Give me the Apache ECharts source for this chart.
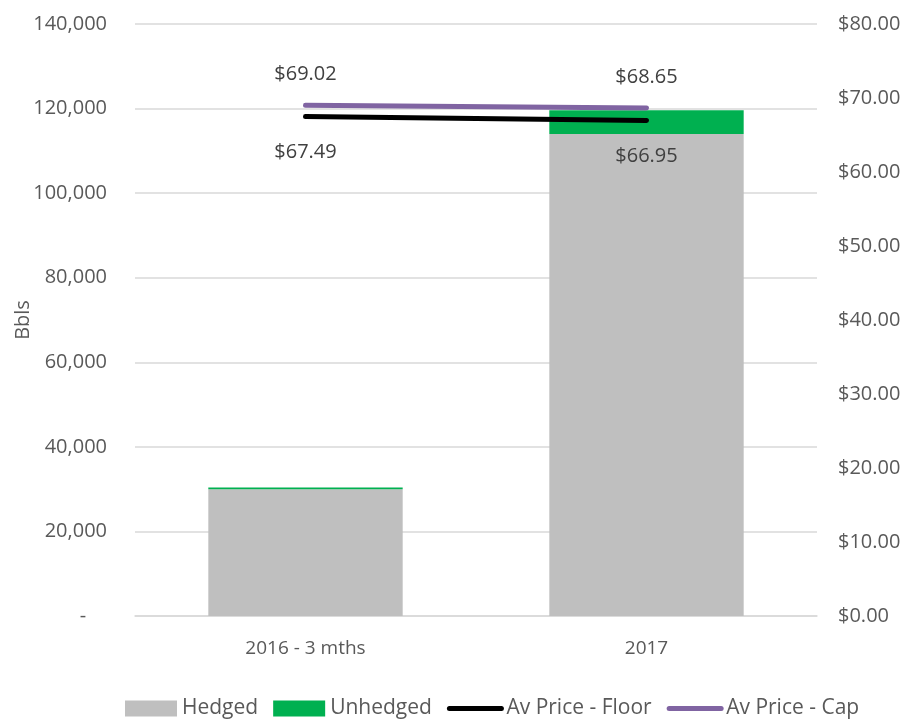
<!DOCTYPE html>
<html>
<head>
<meta charset="utf-8">
<script src="https://cdn.jsdelivr.net/npm/echarts@6/dist/echarts.min.js"></script>
<style>
  html, body { margin: 0; padding: 0; background: #fff; }
  #chart { width: 910px; height: 721px; }
</style>
</head>
<body>
<div id="chart"></div>
<script>
  // values
  var categories = ["2016 - 3 mths", "2017"];
  var hedged = [30000, 114000];
  var unhedged = [400, 5600];
  var priceFloor = [67.49, 66.95];
  var priceCap = [69.02, 68.65];

  var font = "Open Sans";
  var chart = echarts.init(document.getElementById("chart"));

  function money(p) {
    return "$" + p.value.toFixed(2);
  }

  var legendLine = {
    itemStyle: { opacity: 0 },
    lineStyle: { width: 5, cap: "round" }
  };

  chart.setOption({
    animation: false,
    textStyle: { fontFamily: font },
    grid: { left: 135, right: 93, top: 24, bottom: 105, outerBoundsMode: "none" },
    legend: {
      bottom: -3,
      left: 120,
      itemWidth: 52,
      itemHeight: 16,
      itemGap: 15,
      lineStyle: { width: 5 },
      textStyle: { fontFamily: font, fontSize: 21, color: "#595959" },
      data: [
        { name: "Hedged", icon: "rect" },
        { name: "Unhedged", icon: "rect" },
        Object.assign({ name: "Av Price - Floor" }, legendLine),
        Object.assign({ name: "Av Price - Cap" }, legendLine)
      ]
    },
    xAxis: {
      type: "category",
      data: categories,
      axisLine: { lineStyle: { color: "#d9d9d9", width: 1.5 } },
      axisTick: { show: false },
      axisLabel: { color: "#595959", fontSize: 19, margin: 23 }
    },
    yAxis: [
      {
        type: "value",
        min: 0,
        max: 140000,
        interval: 20000,
        name: "Bbls",
        nameLocation: "middle",
        nameRotate: 90,
        nameGap: 102,
        nameMoveOverlap: false,
        nameTextStyle: { color: "#595959", fontSize: 20 },
        axisLine: { show: false },
        axisTick: { show: false },
        splitLine: { lineStyle: { color: "#d9d9d9", width: 1.5 } },
        axisLabel: {
          color: "#595959",
          fontSize: 20,
          margin: 28,
          formatter: function (v) {
            return v === 0 ? "-    " : v.toLocaleString("en-US");
          }
        }
      },
      {
        type: "value",
        min: 0,
        max: 80,
        interval: 10,
        axisLine: { show: false },
        axisTick: { show: false },
        splitLine: { show: false },
        axisLabel: {
          color: "#595959",
          fontSize: 20,
          margin: 21,
          formatter: function (v) { return "$" + v.toFixed(2); }
        }
      }
    ],
    series: [
      {
        name: "Hedged",
        type: "bar",
        stack: "vol",
        barWidth: "57%",
        itemStyle: { color: "#bfbfbf" },
        data: hedged
      },
      {
        name: "Unhedged",
        type: "bar",
        stack: "vol",
        barWidth: "57%",
        itemStyle: { color: "#00b050" },
        data: unhedged
      },
      {
        name: "Av Price - Floor",
        type: "line",
        yAxisIndex: 1,
        symbol: "circle",
        symbolSize: 0.01,
        itemStyle: { color: "#000000" },
        lineStyle: { color: "#000000", width: 5, cap: "round" },
        label: {
          show: true,
          position: "bottom",
          distance: 26,
          fontSize: 20,
          color: "#404040",
          formatter: money
        },
        data: priceFloor
      },
      {
        name: "Av Price - Cap",
        type: "line",
        yAxisIndex: 1,
        symbol: "circle",
        symbolSize: 0.01,
        itemStyle: { color: "#8064a2" },
        lineStyle: { color: "#8064a2", width: 5, cap: "round" },
        label: {
          show: true,
          position: "top",
          distance: 21,
          fontSize: 20,
          color: "#404040",
          formatter: money
        },
        data: priceCap
      }
    ]
  });
</script>
</body>
</html>
